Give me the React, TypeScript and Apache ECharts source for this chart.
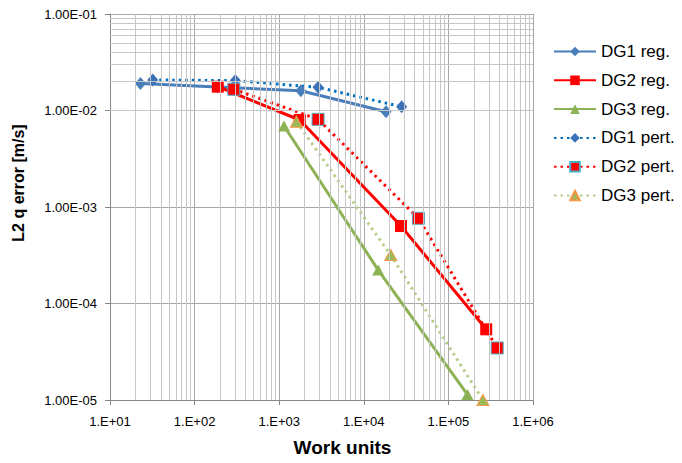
import React, { useEffect, useRef } from "react";
import * as echarts from "echarts";

const seriesNames = ["DG1 reg.", "DG2 reg.", "DG3 reg.", "DG1 pert.", "DG2 pert.", "DG3 pert."];

const dg1RegWork = [22.9, 187, 1800, 18300];
const dg1RegErr = [0.0191, 0.0175, 0.016, 0.00972];
const dg2RegWork = [188, 1750, 27500, 280000];
const dg2RegErr = [0.01765, 0.00797, 0.000635, 5.4e-5];
const dg3RegWork = [1140, 14800, 168000];
const dg3RegErr = [0.0069, 0.000222, 1.14e-5];
const dg1PertWork = [32, 303, 2880, 28000];
const dg1PertErr = [0.0207, 0.0204, 0.0174, 0.01094];
const dg2PertWork = [291, 2880, 44200, 377000];
const dg2PertErr = [0.0166, 0.0081, 0.000764, 3.46e-5];
const dg3PertWork = [1600, 20800, 256000];
const dg3PertErr = [0.00766, 0.000318, 1.0e-5];

const xDecades = [10, 100, 1000, 10000, 100000];
const yDecades = [1e-5, 1e-4, 1e-3, 1e-2];
const minorSteps = [2, 3, 4, 5, 6, 7, 8, 9];

const FONT = "'Liberation Sans', Arial, sans-serif";

function pairs(xs: number[], ys: number[]) {
  return xs.map((x, i) => [x, ys[i]]);
}

function expStr(v: number) {
  const e = Math.round(Math.log10(v));
  const sign = e < 0 ? "-" : "+";
  const a = Math.abs(e);
  return sign + (a < 10 ? "0" + a : String(a));
}

export default function App() {
  const ref = useRef<HTMLDivElement>(null);
  useEffect(() => {
    if (!ref.current) return;
    const chart = echarts.init(ref.current, undefined, { renderer: "svg" });
    const minorLines: any[] = [];
    xDecades.forEach((d) => minorSteps.forEach((m) => minorLines.push({ xAxis: d * m })));
    yDecades.forEach((d) => minorSteps.forEach((m) => minorLines.push({ yAxis: d * m })));

    const solid = (color: string) => ({ color, width: 3, type: "solid" as const });
    const dotted = (color: string) => ({ color, width: 3, type: [2.5, 4] as any, cap: "butt" as const });

    const option: any = {
      animation: false,
      backgroundColor: "#ffffff",
      textStyle: { fontFamily: FONT },
      grid: { left: 110, right: 149, top: 14, bottom: 63 },
      legend: {
        orient: "vertical",
        left: 553,
        top: 43,
        padding: 0,
        itemWidth: 42,
        itemHeight: 12,
        itemGap: 11.8,
        textStyle: { fontSize: 17, color: "#000", fontFamily: FONT },
        data: seriesNames,
      },
      xAxis: {
        type: "log",
        logBase: 10,
        min: 10,
        max: 1e6,
        name: "Work units",
        nameLocation: "middle",
        nameGap: 38,
        nameTextStyle: { fontSize: 19, fontWeight: "bold", color: "#000", fontFamily: FONT, padding: [0, 0, 0, 42] },
        axisLine: { show: true, lineStyle: { color: "#868686", width: 1 } },
        axisTick: { show: true, length: 5, lineStyle: { color: "#868686" } },
        axisLabel: { fontSize: 13, color: "#000", margin: 15, formatter: (v: number) => "1.E" + expStr(v) },
        splitLine: { show: true, lineStyle: { color: "#A8A8A8", width: 1 } },
      },
      yAxis: {
        type: "log",
        logBase: 10,
        min: 1e-5,
        max: 0.1,
        name: "L2 q error [m/s]",
        nameLocation: "middle",
        nameGap: 84,
        nameTextStyle: { fontSize: 16, fontWeight: "bold", color: "#000", fontFamily: FONT, padding: [0, 0, 0, 48] },
        axisLine: { show: true, lineStyle: { color: "#868686", width: 1 } },
        axisTick: { show: true, length: 5, lineStyle: { color: "#868686" } },
        axisLabel: { fontSize: 13, color: "#000", margin: 13, formatter: (v: number) => "1.00E" + expStr(v) },
        splitLine: { show: true, lineStyle: { color: "#A8A8A8", width: 1 } },
      },
      series: [
        {
          name: "minor grid",
          type: "line",
          data: [],
          silent: true,
          z: 1,
          markLine: {
            silent: true,
            symbol: "none",
            animation: false,
            label: { show: false },
            lineStyle: { color: "#C6C6C6", width: 1, type: "solid" },
            emphasis: { disabled: true },
            data: minorLines,
          },
        },
        {
          name: seriesNames[0],
          type: "line",
          z: 3,
          data: pairs(dg1RegWork, dg1RegErr),
          symbol: "diamond",
          symbolSize: [11, 13],
          lineStyle: solid("#4A7EBB"),
          itemStyle: { color: "#4A7EBB" },
        },
        {
          name: seriesNames[1],
          type: "line",
          z: 3,
          data: pairs(dg2RegWork, dg2RegErr),
          symbol: "rect",
          symbolSize: 12,
          lineStyle: solid("#FF0000"),
          itemStyle: { color: "#FF0000" },
        },
        {
          name: seriesNames[2],
          type: "line",
          z: 3,
          data: pairs(dg3RegWork, dg3RegErr),
          symbol: "triangle",
          symbolSize: [12, 11],
          lineStyle: solid("#8DB255"),
          itemStyle: { color: "#8DB255" },
        },
        {
          name: seriesNames[3],
          type: "line",
          z: 3,
          data: pairs(dg1PertWork, dg1PertErr),
          symbol: "diamond",
          symbolSize: [11, 13],
          lineStyle: dotted("#0070C0"),
          itemStyle: { color: "#3C72B8" },
        },
        {
          name: seriesNames[4],
          type: "line",
          z: 3,
          data: pairs(dg2PertWork, dg2PertErr),
          symbol: "rect",
          symbolSize: 12,
          lineStyle: dotted("#FF0000"),
          itemStyle: { color: "#FF0000", borderColor: "#4BACC6", borderWidth: 1 },
        },
        {
          name: seriesNames[5],
          type: "line",
          z: 3,
          data: pairs(dg3PertWork, dg3PertErr),
          symbol: "triangle",
          symbolSize: [12, 11],
          lineStyle: dotted("#B5CE87"),
          itemStyle: { color: "#9BBB59", borderColor: "#F79646", borderWidth: 1 },
        },
      ],
    };
    chart.setOption(option);
    return () => chart.dispose();
  }, []);
  return (
    <div
      ref={ref}
      style={{ position: "fixed", left: 0, top: 0, width: 682, height: 463, background: "#fff" }}
    />
  );
}
